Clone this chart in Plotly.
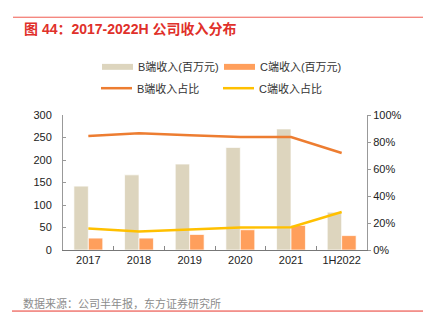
import plotly.graph_objects as go

categories = ["2017", "2018", "2019", "2020", "2021", "1H2022"]
b_revenue = [142, 167, 191, 228, 269, 84]
c_revenue = [26.5, 26.5, 34.5, 45, 54.5, 32]
b_share = [0.844, 0.864, 0.850, 0.837, 0.837, 0.719]
c_share = [0.159, 0.137, 0.152, 0.167, 0.169, 0.282]

W, H = 423, 326
L, R, T, B = 63, 367, 114.5, 250.5

def px(x):
    return (x - L) / (R - L)

def py(y):
    return (B - y) / (B - T)

FONT = "Liberation Sans, Arial, Noto Sans CJK SC, sans-serif"
CJK = "Noto Sans CJK SC, sans-serif"

c_b = "#DDD5BE"
c_c = "#FF9F5C"
c_bl = "#ED7D31"
c_cl = "#FFC000"

fig = go.Figure()
fig.add_trace(go.Bar(x=categories, y=b_revenue, name="B端收入(百万元)",
                     marker=dict(color=c_b, line=dict(color="rgba(255,255,255,0.7)", width=1))))
fig.add_trace(go.Bar(x=categories, y=c_revenue, name="C端收入(百万元)",
                     marker=dict(color=c_c, line=dict(color="rgba(255,255,255,0.7)", width=1))))
fig.add_trace(go.Scatter(x=categories, y=b_share, name="B端收入占比", yaxis="y2",
                         mode="lines", line=dict(color=c_bl, width=2.5)))
fig.add_trace(go.Scatter(x=categories, y=c_share, name="C端收入占比", yaxis="y2",
                         mode="lines", line=dict(color=c_cl, width=2.5)))

shapes = []
annotations = []

shapes.append(dict(type="line", xref="paper", yref="paper", x0=px(13), x1=px(423),
                   y0=py(16), y1=py(16), line=dict(color="#F05A50", width=1)))
shapes.append(dict(type="line", xref="paper", yref="paper", x0=px(12), x1=px(423),
                   y0=py(312), y1=py(312), line=dict(color="#E8352C", width=1)))

annotations.append(dict(text="<b>图 44：2017-2022H 公司收入分布</b>", xref="paper", yref="paper",
                        x=px(22), y=py(28), xanchor="left", yanchor="middle", showarrow=False,
                        font=dict(family=FONT, size=14, color="#E0302A")))
annotations.append(dict(text="数据来源：公司半年报，东方证券研究所", xref="paper", yref="paper",
                        x=px(21), y=py(304), xanchor="left", yanchor="middle", showarrow=False,
                        font=dict(family=CJK, size=11, color="#8C8C8C")))

leg = [
    ("B端收入(百万元)", "bar", c_b, 102, 66),
    ("C端收入(百万元)", "bar", c_c, 224, 66),
    ("B端收入占比", "line", c_bl, 101, 87.5),
    ("C端收入占比", "line", c_cl, 223, 87.5),
]
for name, kind, col, x0, yc in leg:
    if kind == "bar":
        shapes.append(dict(type="rect", xref="paper", yref="paper", x0=px(x0), x1=px(x0 + 31),
                           y0=py(yc + 3), y1=py(yc - 3), line=dict(width=0), fillcolor=col))
    else:
        shapes.append(dict(type="line", xref="paper", yref="paper", x0=px(x0), x1=px(x0 + 31),
                           y0=py(yc), y1=py(yc), line=dict(color=col, width=2.5)))
    annotations.append(dict(text=name, xref="paper", yref="paper", x=px(x0 + 34), y=py(yc),
                            xanchor="left", yanchor="middle", showarrow=False,
                            font=dict(family=FONT, size=11, color="#333333")))

fig.update_layout(
    width=W, height=H,
    margin=dict(l=L, r=W - R, t=T, b=H - B),
    paper_bgcolor="white", plot_bgcolor="white",
    barmode="group", bargap=0.43, bargroupgap=0,
    showlegend=False,
    font=dict(family=FONT, size=11, color="#222222"),
    xaxis=dict(type="category", showline=True, linecolor="#777777", linewidth=1,
               ticks="inside", ticklen=4, tickcolor="#888888", tickson="boundaries",
               showgrid=False, tickfont=dict(size=11, color="#222222")),
    yaxis=dict(range=[0, 300], dtick=50, showline=True, linecolor="#999999", linewidth=1,
               ticks="inside", ticklen=3, tickcolor="#999999", showgrid=False, zeroline=False,
               tickfont=dict(size=11, color="#222222"), ticklabelstandoff=8),
    yaxis2=dict(range=[0, 1], dtick=0.2, tickformat=".0%", overlaying="y", side="right",
                showline=True, linecolor="#999999", linewidth=1, ticks="outside", ticklen=3,
                tickcolor="#999999", showgrid=False, zeroline=False,
                tickfont=dict(size=11, color="#222222")),
    shapes=shapes, annotations=annotations,
)

fig.write_html("out.html")
